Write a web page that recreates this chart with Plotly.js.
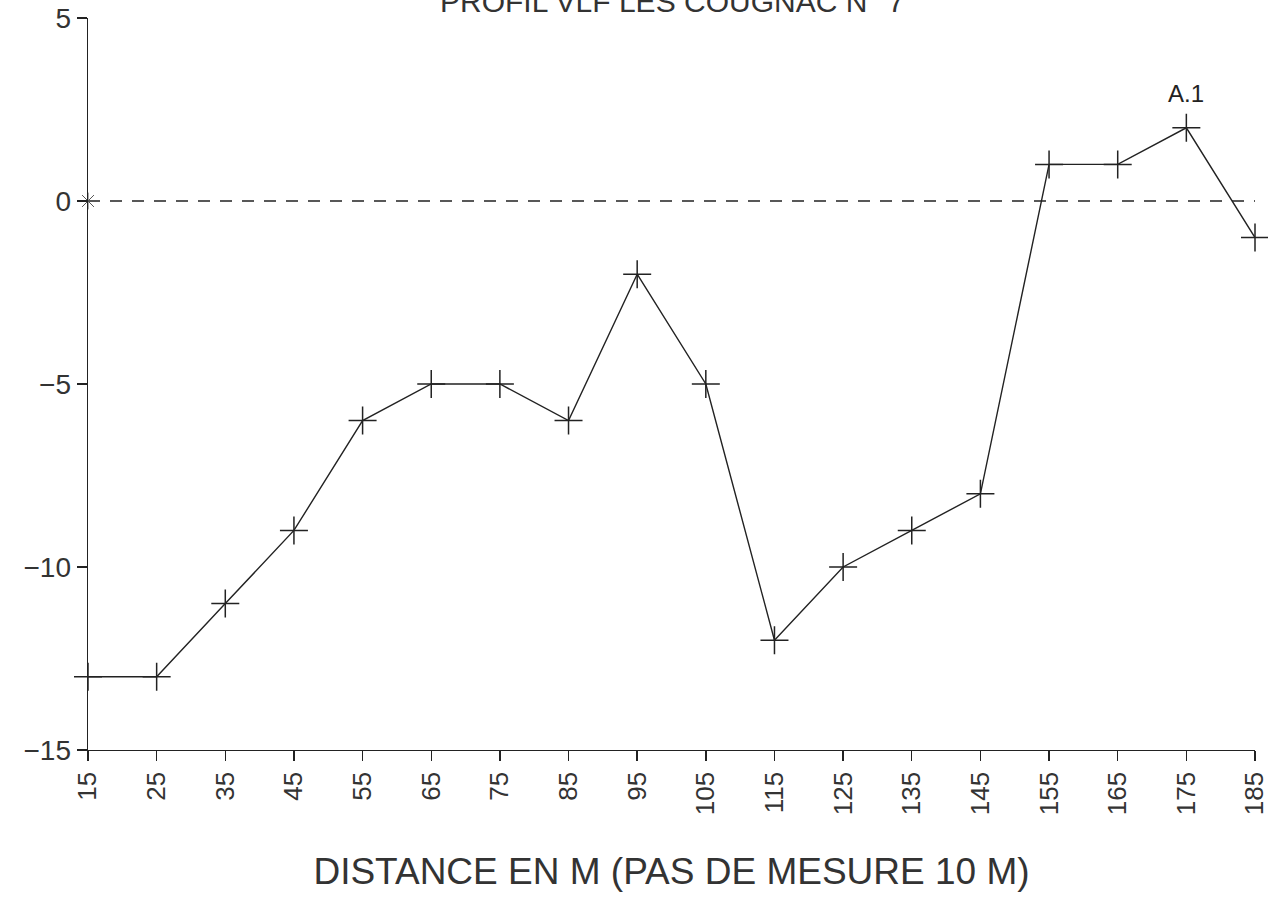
<!DOCTYPE html>
<html>
<head>
<meta charset="utf-8">
<script src="https://cdn.plot.ly/plotly-3.0.1.min.js"></script>
<style>
  html, body { margin: 0; padding: 0; background: #fff; }
  #chart { width: 1268px; height: 910px; }
</style>
</head>
<body>
<div id="chart"></div>
<script>
// Distances along the profile (m) and measured VLF values
const distance = [15, 25, 35, 45, 55, 65, 75, 85, 95, 105, 115, 125, 135, 145, 155, 165, 175, 185];
const vlf = [-13, -13, -11, -9, -6, -5, -5, -6, -2, -5, -12, -10, -9, -8, 1, 1, 2, -1];

// Zero reference line
const zeroX = [15, 185];
const zeroY = [0, 0];

// Anomaly label
const anomalyLabel = 'A.1';
const anomalyX = 175;
const anomalyY = 2;

const yTicks = [5, 0, -5, -10, -15];
const titleText = 'PROFIL VLF LES COUGNAC N° 7';
const xTitleText = 'DISTANCE EN M (PAS DE MESURE 10 M)';

const ink = '#222';
const textInk = '#333';
const fontFamily = 'Liberation Sans, Arial, sans-serif';

const traces = [
  {
    x: zeroX, y: zeroY,
    mode: 'lines',
    line: { color: ink, width: 1.3, dash: '12px,10px' },
    hoverinfo: 'skip', showlegend: false
  },
  {
    x: [zeroX[0]], y: [zeroY[0]],
    mode: 'markers',
    marker: { symbol: 'asterisk-open', size: 14, color: '#555', line: { color: '#555', width: 1 } },
    cliponaxis: false, hoverinfo: 'skip', showlegend: false
  },
  {
    x: distance, y: vlf,
    mode: 'lines+markers',
    line: { color: ink, width: 1.4 },
    marker: { symbol: 'cross-thin-open', size: 20, color: ink, line: { color: ink, width: 1.5 } },
    cliponaxis: false, showlegend: false
  }
];

const layout = {
  width: 1268, height: 910,
  paper_bgcolor: '#fff', plot_bgcolor: '#fff',
  margin: { l: 88, r: 13, t: 18, b: 160 },
  font: { family: fontFamily, color: textInk },
  xaxis: {
    range: [15, 185],
    tickvals: distance,
    ticktext: distance.map(String),
    tickangle: -90,
    ticklabeloverflow: 'allow',
    ticks: 'outside', ticklen: 10, tickwidth: 1.4, tickcolor: ink,
    showline: true, linecolor: ink, linewidth: 1.4,
    showgrid: false, zeroline: false,
    tickfont: { size: 26, color: textInk, family: fontFamily },
    title: { text: xTitleText, font: { size: 37, color: textInk, family: fontFamily }, standoff: 44 }
  },
  yaxis: {
    range: [-15, 5],
    tickvals: yTicks,
    ticktext: yTicks.map(v => v < 0 ? '\u2212' + Math.abs(v) : String(v)),
    ticklabeloverflow: 'allow',
    ticks: 'outside', ticklen: 10, tickwidth: 1.4, tickcolor: ink,
    showline: true, linecolor: ink, linewidth: 1.4,
    showgrid: false, zeroline: false,
    tickfont: { size: 28, color: textInk, family: fontFamily }
  },
  annotations: [
    {
      x: anomalyX, y: anomalyY, xref: 'x', yref: 'y',
      text: anomalyLabel, showarrow: false, yshift: 34,
      font: { size: 24, color: ink, family: fontFamily }
    },
    {
      // plot heading, sitting right at the top edge of the page
      x: 0.5, y: 1.0, xref: 'paper', yref: 'paper',
      xanchor: 'center', yanchor: 'bottom', yshift: -2,
      text: titleText, showarrow: false,
      font: { size: 30, color: textInk, family: fontFamily }
    }
  ]
};

Plotly.newPlot('chart', traces, layout, { displayModeBar: false, staticPlot: true });
</script>
</body>
</html>
